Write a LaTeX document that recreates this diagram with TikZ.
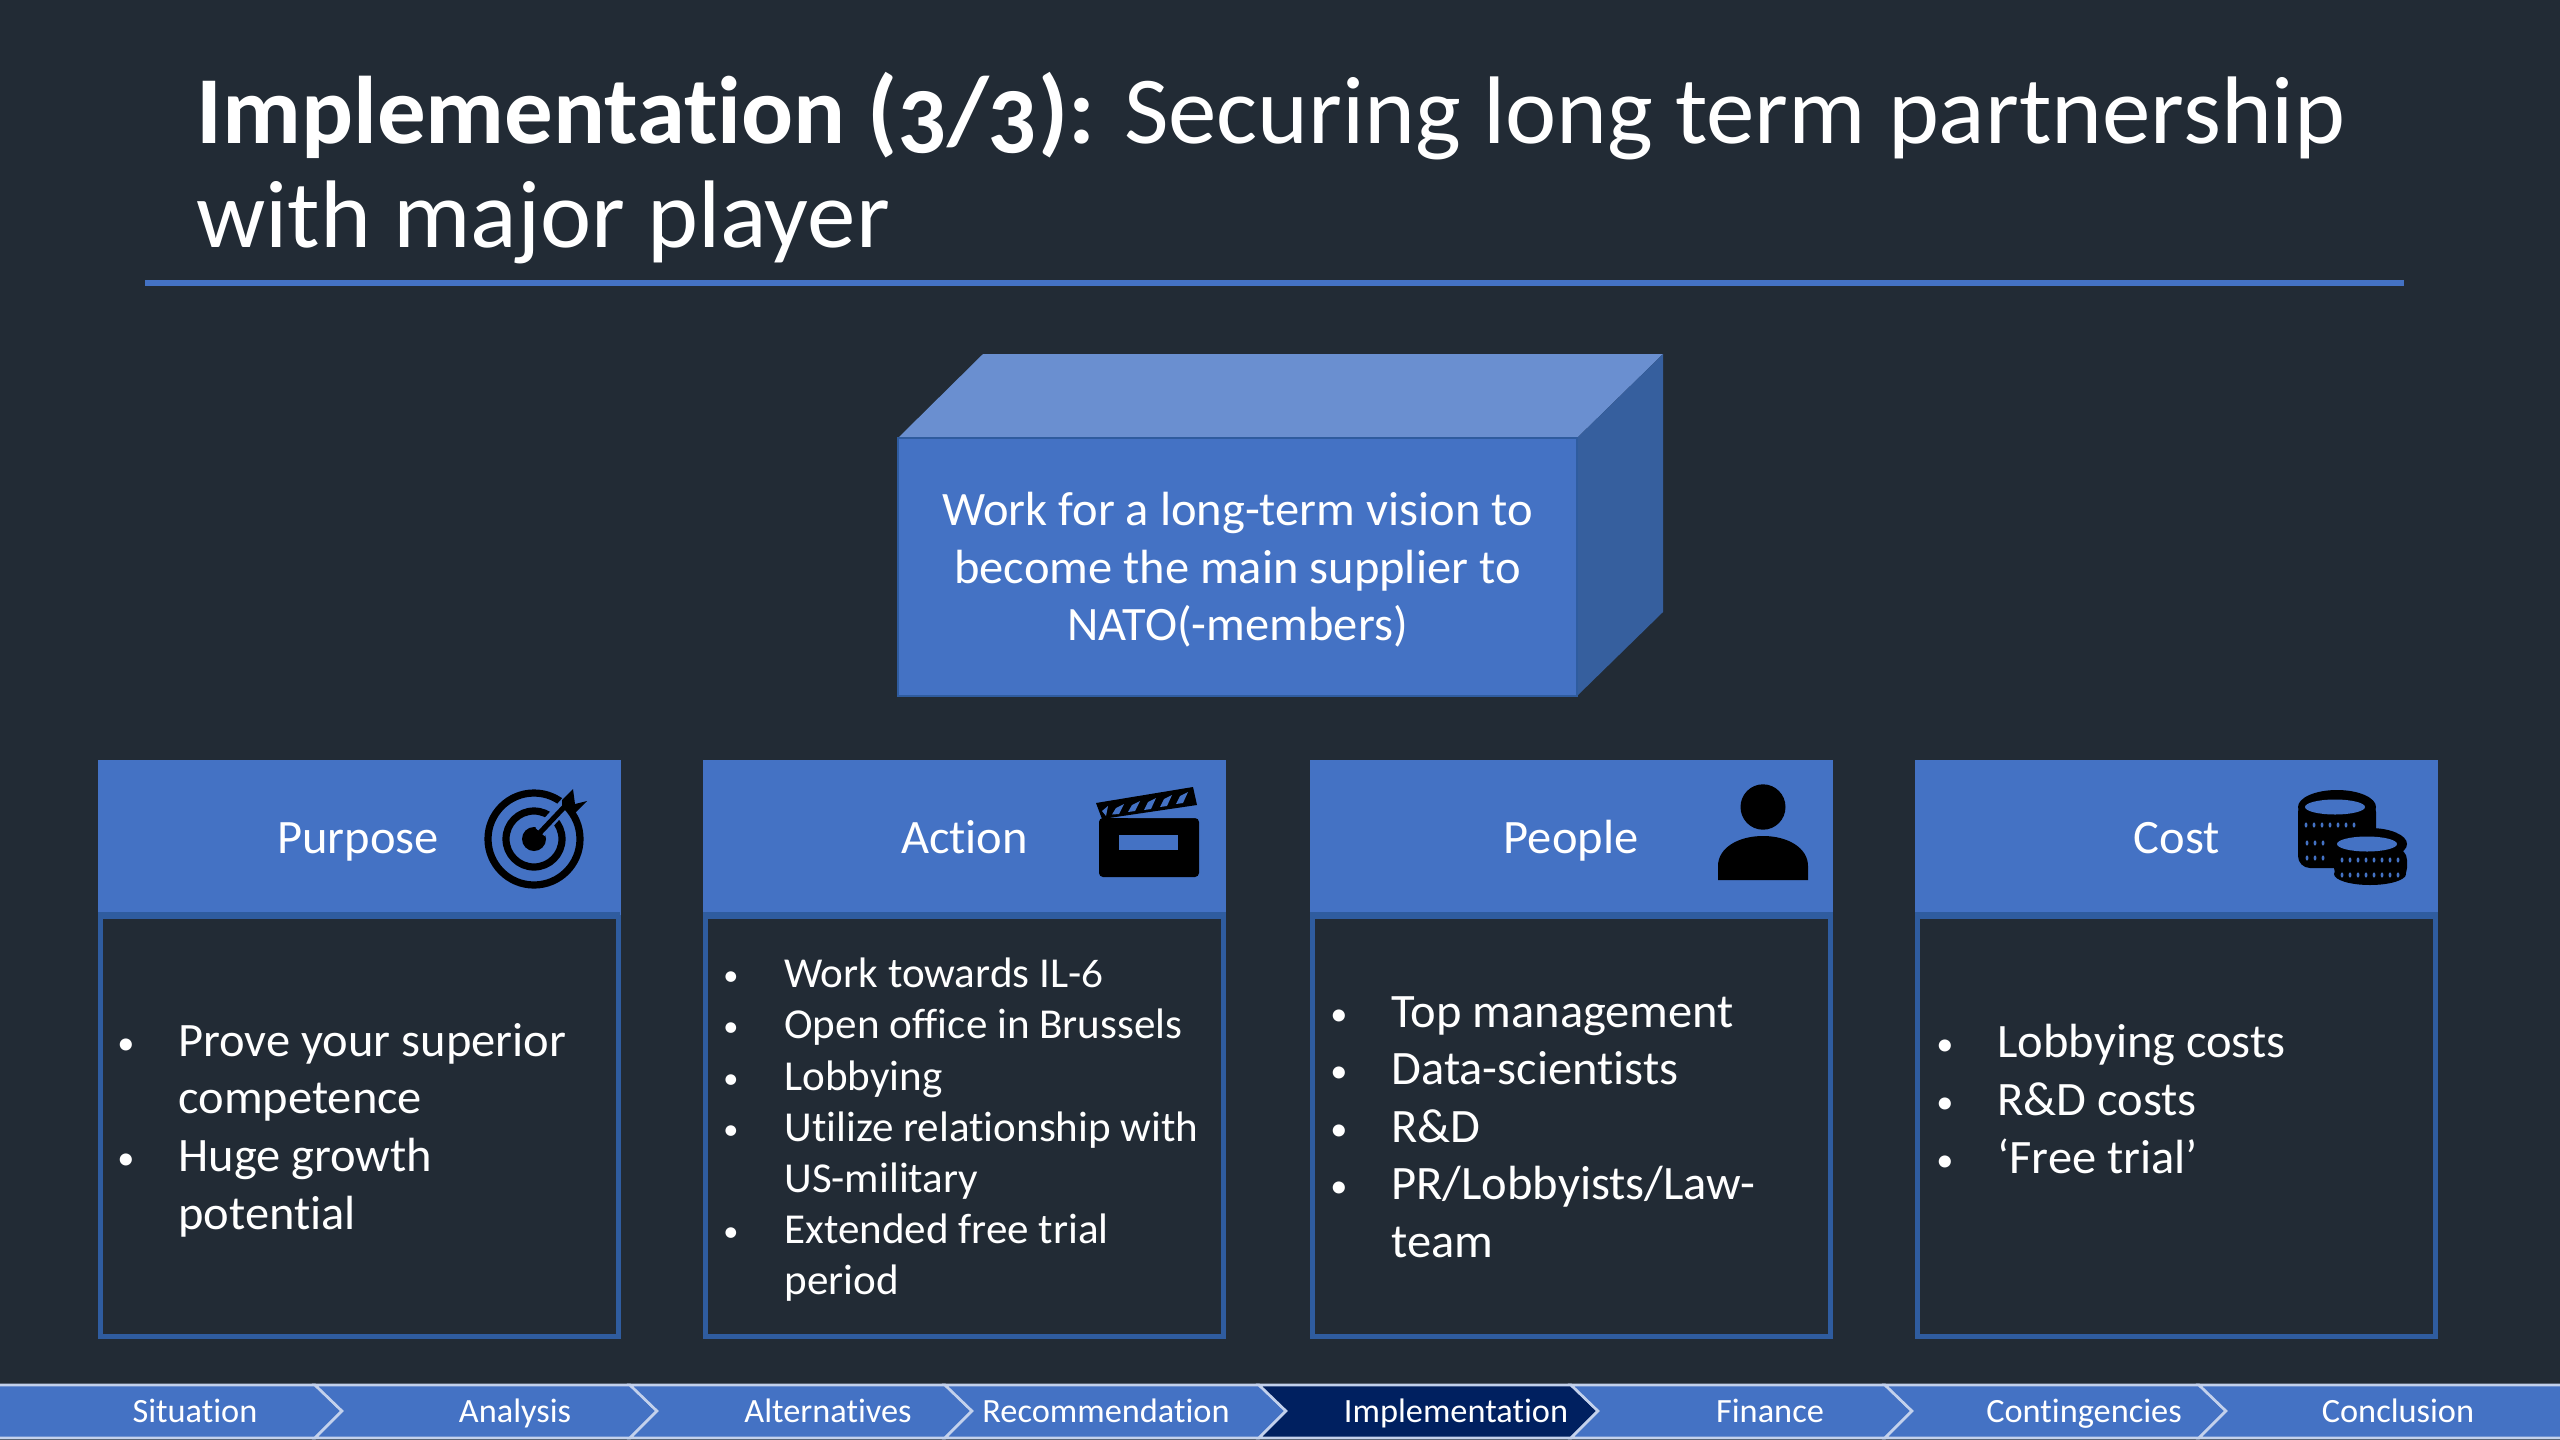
\documentclass[tikz,border=0pt]{standalone}
\usepackage{fontspec}
\setmainfont[Numbers=OldStyle,FakeStretch=1.01,RawFeature={-liga}]{Carlito}
\definecolor{bg}{HTML}{222B35}
\definecolor{mainblue}{HTML}{4472C4}
\definecolor{edgeblue}{HTML}{2F5C9F}
\definecolor{topface}{HTML}{6A8FD0}
\definecolor{sideface}{HTML}{365F9E}
\definecolor{navy}{HTML}{002060}
\definecolor{navedge}{HTML}{C3D1EC}
\tikzset{
  x=0.5pt,y=-0.5pt,
  headbox/.style={fill=mainblue,draw=none,minimum width=261.5pt,minimum height=77.5pt,inner sep=0pt,outer sep=0pt},
  bodybox/.style={draw=edgeblue,line width=2.5pt,minimum width=259pt,minimum height=210pt,inner sep=0pt,outer sep=0pt},
  headtext/.style={text=white,font=\fontsize{24}{28.8}\selectfont,inner sep=0pt,anchor=base},
  bulbig/.style={text=white,font=\fontsize{24}{28.8}\selectfont,align=left,anchor=west,inner sep=0pt},
  bulsmall/.style={text=white,font=\fontsize{21.33}{25.6}\selectfont,align=left,anchor=west,inner sep=0pt},
  navtext/.style={text=white,font=\fontsize{17}{19.2}\selectfont,inner sep=0pt,anchor=base},
  navshape/.style={draw=navedge,line width=1.3pt,line join=miter},
}
\newcommand{\bigitem}{\leavevmode\llap{\raisebox{1pt}{\fontsize{17}{17}\selectfont\textbullet}\hskip 22pt}}
\newcommand{\smallitem}{\leavevmode\llap{\raisebox{1pt}{\fontsize{15}{15}\selectfont\textbullet}\hskip 23pt}}
\newcommand{\chev}[4]{% left notch x, tip offset start, right x, colour
  \path[navshape,fill=#4] (#1,1385) -- (#2,1385) -- (#2+27,1411) -- (#2,1438) -- (#1,1438) -- (#3,1411) -- cycle;}
\begin{document}
\begin{tikzpicture}
\useasboundingbox (0,0) rectangle (2560,1440);
\fill[bg] (0,0) rectangle (2560,1440);

% title
\node[text=white,anchor=west,align=left,inner sep=0pt,font=\fontsize{48}{52}\selectfont] (title) at (196,168)
  {\textbf{Implementation (3/3):} Securing long term partnership\\with major player};
\coordinate (ruleL) at (145,283);
\coordinate (ruleR) at (2404,283);
\draw[mainblue,line width=2.6pt] (ruleL) -- (ruleR);

% central 3D box
\fill[topface] (898,438) -- (983,354) -- (1663,354) -- (1577,438) -- cycle;
\fill[sideface] (1577,438) -- (1663,354) -- (1663,612) -- (1577,696) -- cycle;
\node[fill=mainblue,draw=edgeblue,line width=1pt,minimum width=339.5pt,minimum height=129pt,inner sep=0pt,outer sep=0pt] (vision) at (1237.5,567) {};
\node[text=white,align=center,inner sep=0pt,font=\fontsize{24}{28.8}\selectfont] (visiontext) at (1237.5,570)
  {Work for a long-term vision to\\become the main supplier to\\NATO(-members)};

% panels
\node[bodybox] (bodyA) at (359,1126) {};
\node[bodybox] (bodyB) at (964.5,1126) {};
\node[bodybox] (bodyC) at (1571.5,1126) {};
\node[bodybox] (bodyD) at (2176.5,1126) {};
\node[headbox] (headA) at (359,837) {};
\node[headbox] (headB) at (964.5,837) {};
\node[headbox] (headC) at (1571.5,837) {};
\node[headbox] (headD) at (2176.5,837) {};
\fill[edgeblue] (98,912) rectangle (620,918);
\fill[edgeblue] (703,912) rectangle (1226,918);
\fill[edgeblue] (1310,912) rectangle (1833,918);
\fill[edgeblue] (1915,912) rectangle (2438,918);
\node[headtext] (labA) at (358,853) {Purpose};
\node[headtext] (labB) at (964.5,853) {Action};
\node[headtext] (labC) at (1571,853) {People};
\node[headtext] (labD) at (2177,853) {Cost};

% bullet texts
\node[bulbig] (txtA) at (178,1130) {\bigitem Prove your superior\\competence\\\bigitem Huge growth\\potential};
\node[bulsmall] (txtB) at (784,1130) {\smallitem Work towards IL-6\\\smallitem Open office in Brussels\\\smallitem Lobbying\\\smallitem Utilize relationship with\\US-military\\\smallitem Extended free trial\\period};
\node[bulbig] (txtC) at (1391,1127) {\bigitem Top management\\\bigitem Data-scientists\\\bigitem R\&D\\\bigitem PR/Lobbyists/Law-\\team};
\node[bulbig] (txtD) at (1997,1099) {\bigitem Lobbying costs\\\bigitem R\&D costs\\\bigitem ‘Free trial’};

% target icon
\draw[black,line width=3.6pt] (534,839) circle (46);
\draw[black,line width=3.6pt] (534,839) circle (28);
\fill[black] (534,839) circle (12);
\draw[mainblue,line width=6pt] (540,832) -- (585,782);
\draw[black,line width=2.6pt] (534,839) -- (568,803);
\fill[black] (562,807) -- (562,800) -- (573,789) -- (575,804) -- (587,801) -- (575,813) -- (567,812) -- cycle;

% clapper icon
\fill[black,rounded corners=2pt] (1099,818) rectangle (1199,877);
\fill[mainblue] (1119,835) rectangle (1178,850);
\fill[mainblue] (1128,818) -- (1199,804) -- (1199,818) -- cycle;
\fill[black] (1096,803) -- (1193,787) -- (1197,805) -- (1102,819) -- cycle;
\fill[mainblue] (1102,811) -- (1108,806) -- (1106,816) -- cycle;
\fill[mainblue] (1116,808) -- (1124,804) -- (1119,814) -- (1112,814.5) -- cycle;
\fill[mainblue] (1132,805) -- (1140,801) -- (1135,811) -- (1128,812) -- cycle;
\fill[mainblue] (1148,802) -- (1156,798) -- (1151,809) -- (1144,810) -- cycle;
\fill[mainblue] (1164,799) -- (1172,795) -- (1167,806) -- (1160,807) -- cycle;
\fill[mainblue] (1180,796) -- (1188,792) -- (1183,803) -- (1176,804) -- cycle;

% person icon
\fill[black] (1763,807) ellipse (22.5 and 22.7);
\fill[black] (1718,880) -- (1718,866) .. controls (1718,848) and (1738,836) .. (1763,836) .. controls (1788,836) and (1808,848) .. (1808,866) -- (1808,880) -- cycle;

% coin icon
\fill[black,rounded corners=6pt] (2298,800) rectangle (2376,868);
\fill[black] (2337,807) ellipse (39 and 17);
\fill[mainblue] (2335,807) ellipse (30 and 7.5);
\fill[black,rounded corners=6pt] (2334,848) rectangle (2407,880);
\fill[black] (2370,844) ellipse (37 and 16);
\fill[black] (2370,874) ellipse (36 and 11);
\fill[mainblue] (2367,844) ellipse (30 and 7.5);
\foreach \x in {2306,2314,2322,2330,2338,2346,2354}{\fill[mainblue] (\x,825) ellipse (1.4 and 2.6);}
\foreach \x in {2307,2315,2323}{\fill[mainblue] (\x,843) ellipse (1.4 and 2.6);\fill[mainblue] (\x,858) ellipse (1.4 and 2.6);}
\foreach \x in {2342,2350,2358,2366,2374,2382,2390,2398}{\fill[mainblue] (\x,860) ellipse (1.4 and 2.6);\fill[mainblue] (\x,875) ellipse (1.4 and 2.6);}

% navigation bar
\path[navshape,fill=mainblue] (-3,1385) -- (315,1385) -- (342,1411) -- (315,1438) -- (-3,1438) -- cycle;
\chev{315}{630}{342}{mainblue}
\chev{630}{945}{657}{mainblue}
\chev{945}{1259}{972}{mainblue}
\chev{1259}{1571}{1286}{navy}
\chev{1571}{1885}{1598}{mainblue}
\chev{1885}{2199}{1912}{mainblue}
\path[navshape,fill=mainblue] (2199,1385) -- (2563,1385) -- (2563,1438) -- (2199,1438) -- (2226,1411) -- cycle;
\node[navtext] (n1) at (195,1422) {Situation};
\node[navtext] (n2) at (515,1422) {Analysis};
\node[navtext] (n3) at (828,1422) {Alternatives};
\node[navtext] (n4) at (1106,1422) {Recommendation};
\node[navtext] (n5) at (1456,1422) {Implementation};
\node[navtext] (n6) at (1770,1422) {Finance};
\node[navtext] (n7) at (2084,1422) {Contingencies};
\node[navtext] (n8) at (2398,1422) {Conclusion};
\end{tikzpicture}
\end{document}
